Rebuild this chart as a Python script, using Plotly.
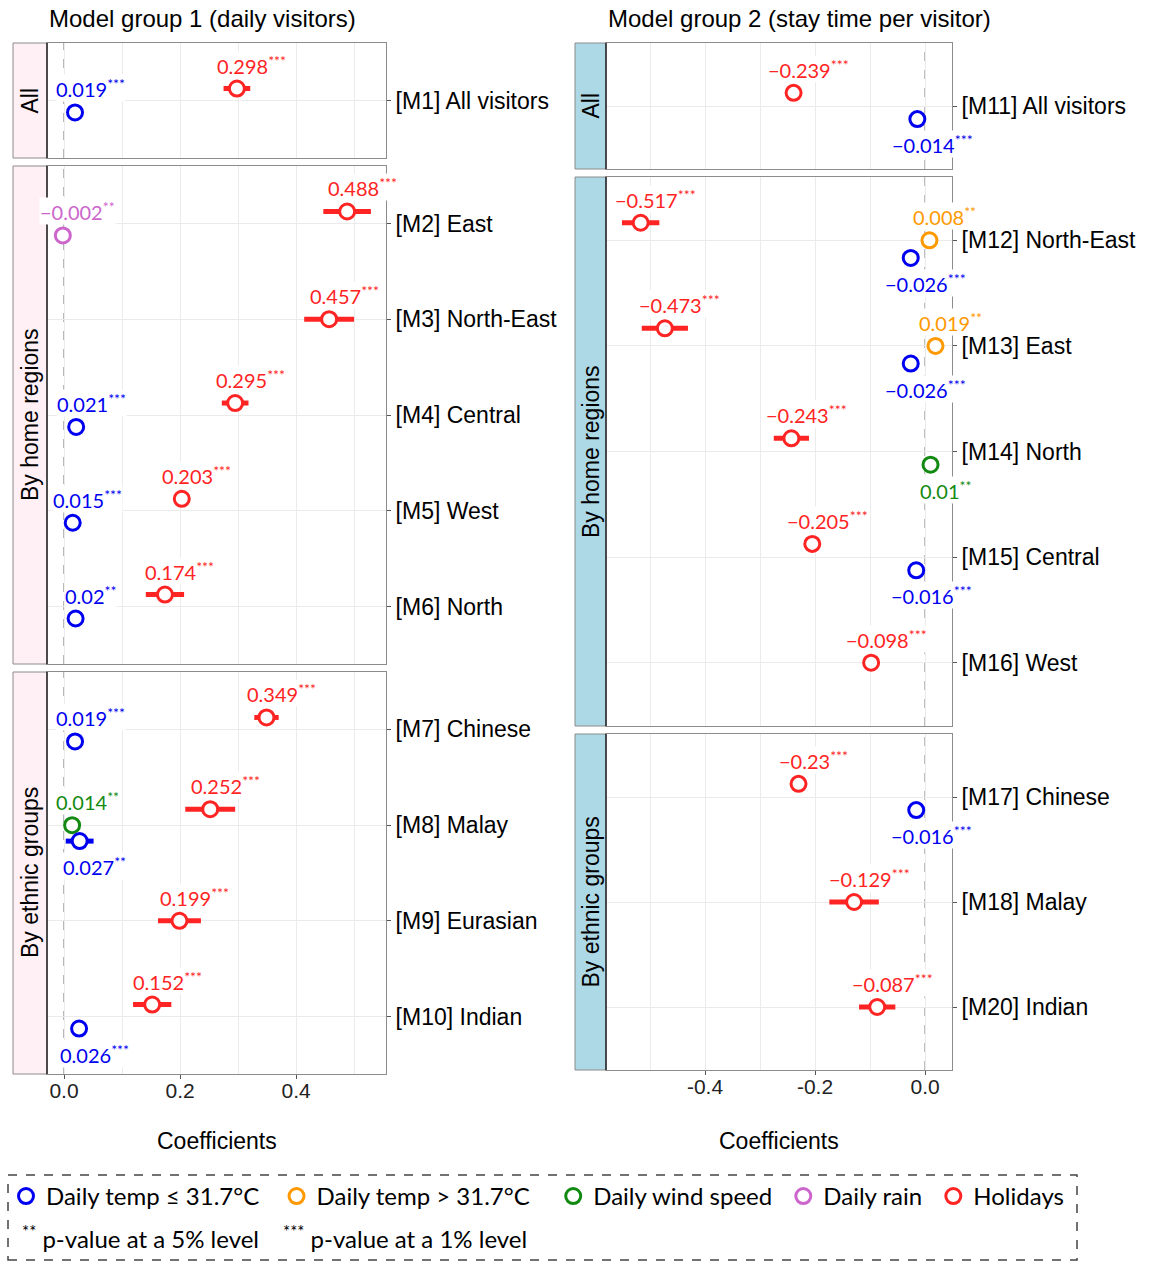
import plotly.graph_objects as go

# ---------------- data ----------------
panel_names = ["All", "By home regions", "By ethnic groups"]

g1_models = ["[M1] All visitors", "[M2] East", "[M3] North-East", "[M4] Central", "[M5] West",
             "[M6] North", "[M7] Chinese", "[M8] Malay", "[M9] Eurasian", "[M10] Indian"]
g1_panels = ["All", "By home regions", "By home regions", "By home regions", "By home regions",
             "By home regions", "By ethnic groups", "By ethnic groups", "By ethnic groups", "By ethnic groups"]

g1_holidays = [0.298, 0.488, 0.457, 0.295, 0.203, 0.174, 0.349, 0.252, 0.199, 0.152]
g1_holidays_err = [0.023, 0.041, 0.043, 0.023, 0.008, 0.033, 0.021, 0.043, 0.037, 0.033]
g1_holidays_sig = ["***", "***", "***", "***", "***", "***", "***", "***", "***", "***"]
g1_holidays_lab = ["up", "up", "up", "up", "up", "up", "up", "up", "up", "up"]

g1_temp_low = [0.019, None, None, 0.021, 0.015, 0.020, 0.019, 0.027, None, 0.026]
g1_temp_low_err = [0.004, None, None, 0.004, 0.004, 0.004, 0.004, 0.024, None, 0.004]
g1_temp_low_sig = ["***", None, None, "***", "***", "**", "***", "**", None, "***"]
g1_temp_low_lab = ["up", None, None, "up", "up", "up", "up", "down", None, "down"]

g1_temp_high = [None] * 10
g1_temp_high_err = [None] * 10
g1_temp_high_sig = [None] * 10
g1_temp_high_lab = [None] * 10

g1_wind = [None, None, None, None, None, None, None, 0.014, None, None]
g1_wind_err = [None, None, None, None, None, None, None, 0.003, None, None]
g1_wind_sig = [None, None, None, None, None, None, None, "**", None, None]
g1_wind_lab = [None, None, None, None, None, None, None, "up", None, None]

g1_rain = [None, -0.002, None, None, None, None, None, None, None, None]
g1_rain_err = [None, 0.001, None, None, None, None, None, None, None, None]
g1_rain_sig = [None, "**", None, None, None, None, None, None, None, None]
g1_rain_lab = [None, "up", None, None, None, None, None, None, None, None]

g2_models = ["[M11] All visitors", "[M12] North-East", "[M13] East", "[M14] North", "[M15] Central",
             "[M16] West", "[M17] Chinese", "[M18] Malay", "[M20] Indian"]
g2_panels = ["All", "By home regions", "By home regions", "By home regions", "By home regions",
             "By home regions", "By ethnic groups", "By ethnic groups", "By ethnic groups"]

g2_holidays = [-0.239, -0.517, -0.473, -0.243, -0.205, -0.098, -0.23, -0.129, -0.087]
g2_holidays_err = [0.008, 0.034, 0.042, 0.032, 0.008, 0.008, 0.008, 0.045, 0.033]
g2_holidays_sig = ["***", "***", "***", "***", "***", "***", "***", "***", "***"]
g2_holidays_lab = ["up", "up", "up", "up", "up", "up", "up", "up", "up"]

g2_temp_low = [-0.014, -0.026, -0.026, None, -0.016, None, -0.016, None, None]
g2_temp_low_err = [0.004, 0.004, 0.004, None, 0.004, None, 0.004, None, None]
g2_temp_low_sig = ["***", "***", "***", None, "***", None, "***", None, None]
g2_temp_low_lab = ["down", "down", "down", None, "down", None, "down", None, None]

g2_temp_high = [None, 0.008, 0.019, None, None, None, None, None, None]
g2_temp_high_err = [None, 0.003, 0.003, None, None, None, None, None, None]
g2_temp_high_sig = [None, "**", "**", None, None, None, None, None, None]
g2_temp_high_lab = [None, "up", "up", None, None, None, None, None, None]

g2_wind = [None, None, None, 0.01, None, None, None, None, None]
g2_wind_err = [None, None, None, 0.003, None, None, None, None, None]
g2_wind_sig = [None, None, None, "**", None, None, None, None, None]
g2_wind_lab = [None, None, None, "down", None, None, None, None, None]

g2_rain = [None] * 9
g2_rain_err = [None] * 9
g2_rain_sig = [None] * 9
g2_rain_lab = [None] * 9

g1_xticks = [0.0, 0.2, 0.4]
g1_xticklabels = ["0.0", "0.2", "0.4"]
g2_xticks = [-0.4, -0.2, 0.0]
g2_xticklabels = ["-0.4", "-0.2", "0.0"]

legend_names = ["Daily temp \u2264 31.7\u00b0C", "Daily temp > 31.7\u00b0C", "Daily wind speed",
                "Daily rain", "Holidays"]
group_titles = ["Model group 1 (daily visitors)", "Model group 2 (stay time per visitor)"]

# ---------------- styling ----------------
W, H = 1157, 1261
SANS = "Liberation Sans, Arial, sans-serif"
LAB = "Lato, Carlito, sans-serif"
col_temp_low = "#0000F0"
col_temp_high = "#FF9900"
col_wind = "#128A12"
col_rain = "#CC66CC"
col_hol = "#FF2424"
GRID = "#EBEBEB"
BORDER = "#8C8C8C"
legend_pad = [2, 3, 1, 1, 0]  # extra spacing after legend entries (nbsp count)

groups = [
    dict(models=g1_models, panels=g1_panels,
         series=[(g1_holidays, g1_holidays_err, g1_holidays_sig, g1_holidays_lab, col_hol),
                 (g1_temp_high, g1_temp_high_err, g1_temp_high_sig, g1_temp_high_lab, col_temp_high),
                 (g1_wind, g1_wind_err, g1_wind_sig, g1_wind_lab, col_wind),
                 (g1_rain, g1_rain_err, g1_rain_sig, g1_rain_lab, col_rain),
                 (g1_temp_low, g1_temp_low_err, g1_temp_low_sig, g1_temp_low_lab, col_temp_low)],
         xticks=g1_xticks, xticklabels=g1_xticklabels,
         xpx=(47, 386), strip=(13, 47), ypx=[(43, 158), (166, 664), (672, 1074)],
         xrange=[-0.0293, 0.555], stripcol="#FFF0F5", title=group_titles[0]),
    dict(models=g2_models, panels=g2_panels,
         series=[(g2_holidays, g2_holidays_err, g2_holidays_sig, g2_holidays_lab, col_hol),
                 (g2_temp_high, g2_temp_high_err, g2_temp_high_sig, g2_temp_high_lab, col_temp_high),
                 (g2_wind, g2_wind_err, g2_wind_sig, g2_wind_lab, col_wind),
                 (g2_rain, g2_rain_err, g2_rain_sig, g2_rain_lab, col_rain),
                 (g2_temp_low, g2_temp_low_err, g2_temp_low_sig, g2_temp_low_lab, col_temp_low)],
         xticks=g2_xticks, xticklabels=g2_xticklabels,
         xpx=(606, 952), strip=(575, 606), ypx=[(43, 169), (177, 726), (734, 1070)],
         xrange=[-0.58, 0.049], stripcol="#ADD8E6", title=group_titles[1]),
]


def fmt(v):
    return repr(v).replace("-", "\u2212")


fig = go.Figure()
layout = dict(width=W, height=H, margin=dict(l=0, r=0, t=0, b=0),
              paper_bgcolor="white", plot_bgcolor="white",
              font=dict(family=SANS, size=23, color="black"))
shapes, annotations = [], []

k = 0
for g in groups:
    models, panels = g["models"], g["panels"]
    n_models = len(models)
    offsets = {}
    for m in range(n_models):
        present = [si for si, s in enumerate(g["series"]) if s[0][m] is not None]
        kk = len(present)
        for r, si in enumerate(present):
            offsets[(m, si)] = (r - (kk - 1) / 2) * 0.5 / kk
    for p, pname in enumerate(panel_names):
        k += 1
        xa = "x" if k == 1 else f"x{k}"
        ya = "y" if k == 1 else f"y{k}"
        idx = [m for m in range(n_models) if panels[m] == pname]
        n = len(idx)
        top, bot = g["ypx"][p]
        bottom_panel = p == 2
        layout["xaxis" if k == 1 else f"xaxis{k}"] = dict(
            domain=[g["xpx"][0] / W, g["xpx"][1] / W], range=g["xrange"], anchor=ya,
            tickmode="array", tickvals=g["xticks"], ticktext=g["xticklabels"],
            showgrid=True, gridcolor=GRID, gridwidth=1,
            minor=dict(tickmode="linear", tick0=0, dtick=0.1, showgrid=True, gridcolor=GRID, gridwidth=1),
            zeroline=False, showline=True, mirror=True, linecolor=BORDER, linewidth=1,
            ticks="outside" if bottom_panel else "", ticklen=4, tickcolor="#555",
            showticklabels=bottom_panel, tickfont=dict(family=SANS, size=21, color="#222"))
        layout["yaxis" if k == 1 else f"yaxis{k}"] = dict(
            domain=[1 - bot / H, 1 - top / H], range=[n - 0.4, -0.6], anchor=xa,
            tickmode="array", tickvals=list(range(n)), ticktext=[models[m] for m in idx],
            side="right", ticks="outside", ticklen=4, tickcolor="#555",
            showgrid=True, gridcolor=GRID, gridwidth=1, zeroline=False,
            showline=True, mirror=True, linecolor=BORDER, linewidth=1,
            tickfont=dict(family=SANS, size=23, color="black"))
        shapes.append(dict(type="line", xref=xa, yref=f"{ya} domain", x0=0, x1=0, y0=0, y1=1,
                           line=dict(color="#8A8A8A", width=1.2, dash="dash"), layer="below"))
        s0, s1 = g["strip"]
        shapes.append(dict(type="rect", xref="paper", yref="paper", x0=s0 / W, x1=s1 / W,
                           y0=1 - bot / H, y1=1 - top / H, fillcolor=g["stripcol"],
                           line=dict(color=BORDER, width=1)))
        shapes.append(dict(type="line", xref="paper", yref="paper", x0=s1 / W, x1=s1 / W,
                           y0=1 - bot / H, y1=1 - top / H, line=dict(color="#222", width=1.5)))
        annotations.append(dict(xref="paper", yref="paper", x=(s0 + s1) / 2 / W,
                                y=1 - (top + bot) / 2 / H, text=pname, textangle=-90,
                                xanchor="center", yanchor="middle",
                                showarrow=False, font=dict(family=SANS, size=23, color="black")))
        for si, (vals, errs, sigs, labs, col) in enumerate(g["series"]):
            xs, ys, es = [], [], []
            for li, m in enumerate(idx):
                if vals[m] is None:
                    continue
                yv = li + offsets[(m, si)]
                xs.append(vals[m]); ys.append(yv); es.append(errs[m])
                annotations.append(dict(
                    xref=xa, yref=ya, x=vals[m], y=yv,
                    text=f"{fmt(vals[m])}<sup>{sigs[m]}</sup>",
                    showarrow=False, xanchor="center", yanchor="middle",
                    xshift=15, yshift=24 if labs[m] == "up" else -25,
                    bgcolor="white", borderpad=0,
                    font=dict(family=LAB, size=20, color=col)))
            if xs:
                fig.add_trace(go.Scatter(
                    x=xs, y=ys, xaxis=xa, yaxis=ya, mode="markers", showlegend=False,
                    error_x=dict(type="data", array=es, symmetric=True, thickness=5, width=0, color=col),
                    marker=dict(symbol="circle", size=15, color="white", line=dict(color=col, width=3)),
                    cliponaxis=False))
    annotations.append(dict(xref="paper", yref="paper", x=g["xpx"][0] / W, y=1 - 19 / H,
                            text=g["title"], showarrow=False, xanchor="left", yanchor="middle",
                            font=dict(family=SANS, size=24, color="black")))
    annotations.append(dict(xref="paper", yref="paper", x=(g["xpx"][0] + g["xpx"][1]) / 2 / W,
                            y=1 - 1141 / H, text="Coefficients", showarrow=False,
                            xanchor="center", yanchor="middle",
                            font=dict(family=SANS, size=23, color="black")))

for name, col, pad in zip(legend_names, [col_temp_low, col_temp_high, col_wind, col_rain, col_hol], legend_pad):
    fig.add_trace(go.Scatter(x=[None], y=[None], xaxis="x", yaxis="y", mode="markers",
                             name=name + "\u00a0" * pad, showlegend=True,
                             marker=dict(symbol="circle", size=15, color="white",
                                         line=dict(color=col, width=3))))

layout["legend"] = dict(orientation="h", x=6 / W, y=1 - 1174 / H, xanchor="left", yanchor="top",
                        font=dict(family=LAB, size=24, color="black"), bgcolor="rgba(0,0,0,0)",
                        traceorder="normal", itemwidth=30)
shapes.append(dict(type="rect", xref="paper", yref="paper", x0=8 / W, x1=1077 / W,
                   y0=1 - 1260 / H, y1=1 - 1175 / H, line=dict(color="#444", width=1.5, dash="dash")))
annotations.append(dict(xref="paper", yref="paper", x=20 / W, y=1 - 1237 / H,
                        text="<sup>**</sup> p-value at a 5% level", showarrow=False,
                        xanchor="left", yanchor="middle", font=dict(family=LAB, size=24, color="black")))
annotations.append(dict(xref="paper", yref="paper", x=281 / W, y=1 - 1237 / H,
                        text="<sup>***</sup> p-value at a 1% level", showarrow=False,
                        xanchor="left", yanchor="middle", font=dict(family=LAB, size=24, color="black")))

layout["shapes"] = shapes
layout["annotations"] = annotations
fig.update_layout(**layout)
try:
    fig.update_xaxes(ticklabelstandoff=-6)
except Exception:
    pass
fig.write_html("out.html", config={"displayModeBar": False},
               post_script="document.body.style.margin='0';document.body.style.padding='0';")
